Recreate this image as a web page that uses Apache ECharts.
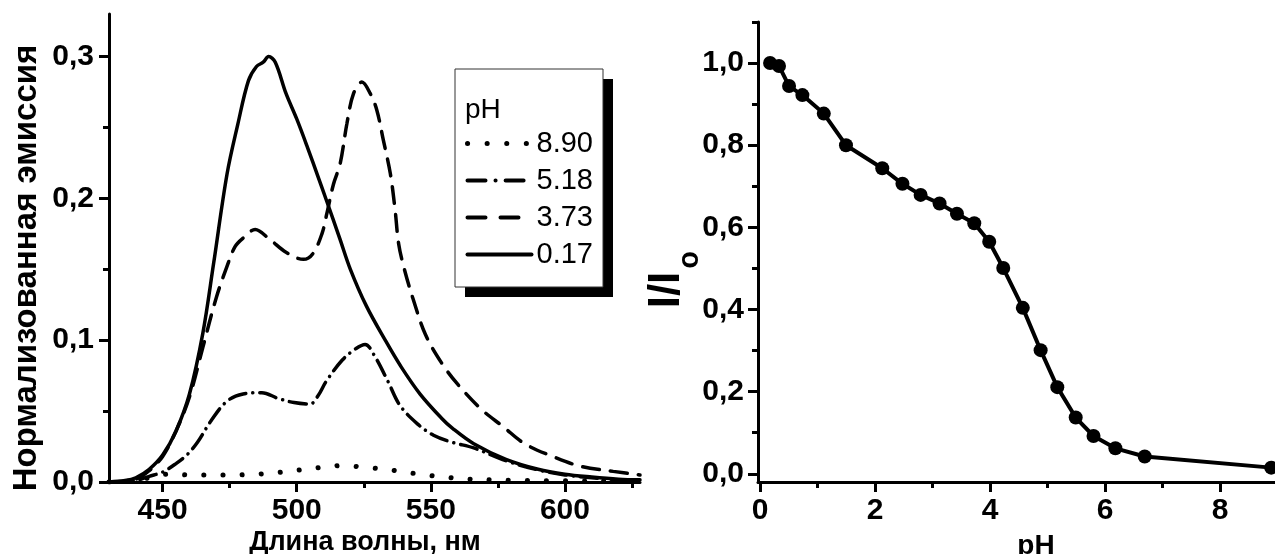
<!DOCTYPE html>
<html>
<head>
<meta charset="utf-8">
<script src="https://cdn.jsdelivr.net/npm/echarts@6/dist/echarts.min.js"></script>
<style>
html,body{margin:0;padding:0;background:#fff;}
#c{width:1275px;height:554px;}
</style>
</head>
<body>
<div id="c"></div>
<script>
// ---- Left panel: normalized emission spectra (wavelength, nm) ----
const wl_017 = [430, 436, 440, 445, 450, 455, 460, 465, 469, 474, 478, 482, 485, 487.5, 489.5, 492, 496, 500, 504, 508, 511, 516, 520, 526, 533, 539, 546, 554, 558, 566, 578, 590, 600, 610, 620, 628];
const em_017 = [0.000, 0.001, 0.003, 0.009, 0.019, 0.036, 0.062, 0.105, 0.154, 0.217, 0.252, 0.283, 0.293, 0.296, 0.300, 0.296, 0.274, 0.256, 0.236, 0.215, 0.199, 0.172, 0.150, 0.124, 0.100, 0.081, 0.062, 0.045, 0.038, 0.027, 0.016, 0.009, 0.0055, 0.0035, 0.002, 0.0015];

const wl_373 = [430, 440, 445, 450, 455, 460, 465, 470, 474, 477, 480, 484.5, 490, 496, 502.5, 506, 509.4, 511.2, 513.7, 516.2, 518.7, 521.2, 524.3, 527.4, 529.9, 532.3, 534.9, 536.7, 538, 540, 543.4, 548, 554, 560, 569, 577, 585, 596, 606, 618, 628];
const em_373 = [0.000, 0.002, 0.008, 0.018, 0.036, 0.060, 0.095, 0.130, 0.152, 0.166, 0.172, 0.178, 0.171, 0.162, 0.157, 0.161, 0.175, 0.189, 0.210, 0.2245, 0.2526, 0.274, 0.282, 0.274, 0.262, 0.241, 0.2175, 0.1915, 0.168, 0.151, 0.129, 0.104, 0.084, 0.069, 0.051, 0.039, 0.027, 0.0176, 0.011, 0.0075, 0.005];

const wl_518 = [430, 440, 445, 450, 455, 459, 463, 468, 474, 480, 487, 493, 499, 505, 508, 511, 517, 522, 525.5, 529, 534, 538.5, 545, 551, 558, 566, 578, 590, 600, 610, 620, 628];
const em_518 = [0.000, 0.001, 0.004, 0.007, 0.013, 0.019, 0.028, 0.043, 0.057, 0.062, 0.063, 0.059, 0.056, 0.055, 0.061, 0.071, 0.086, 0.094, 0.097, 0.089, 0.071, 0.054, 0.041, 0.033, 0.028, 0.024, 0.015, 0.0085, 0.005, 0.003, 0.0015, 0.001];

const wl_890 = [430, 440, 445, 452, 460, 470, 477, 485, 492, 500, 508, 516, 522, 528, 535, 540, 548, 556, 564, 572, 585, 600, 615, 628];
const em_890 = [0.000, 0.001, 0.003, 0.0055, 0.005, 0.005, 0.005, 0.0055, 0.0065, 0.0083, 0.010, 0.0115, 0.011, 0.010, 0.0085, 0.007, 0.005, 0.0033, 0.002, 0.0015, 0.001, 0.0008, 0.0005, 0.0005];

const legendNames = ['8.90', '5.18', '3.73', '0.17'];
const leftXTicks = [450, 500, 550, 600];
const leftXMinor = [475, 525, 575, 625];
const leftYTicks = [0, 0.1, 0.2, 0.3];
const leftYMinor = [0.05, 0.15, 0.25];

// ---- Right panel: I/Io versus pH ----
const phValues = [0.175, 0.33, 0.505, 0.737, 1.109, 1.495, 2.126, 2.477, 2.793, 3.123, 3.425, 3.726, 3.986, 4.23, 4.57, 4.88, 5.17, 5.49, 5.80, 6.18, 6.69, 8.89];
const ratioValues = [1.000, 0.993, 0.944, 0.922, 0.877, 0.800, 0.744, 0.706, 0.679, 0.658, 0.633, 0.610, 0.565, 0.501, 0.404, 0.301, 0.211, 0.137, 0.092, 0.062, 0.042, 0.015];
const rightXTicks = [0, 2, 4, 6, 8];
const rightXMinor = [1, 3, 5, 7];
const rightYTicks = [0, 0.2, 0.4, 0.6, 0.8, 1.0];
const rightYMinor = [0.1, 0.3, 0.5, 0.7, 0.9, 1.1];

const FONT = '"Liberation Sans", Arial, sans-serif';
const zip = (xs, ys) => xs.map((x, i) => [x, ys[i]]);
const comma = v => v.toFixed(1).replace('.', ',');

const dashes = { '8.90': [0.1, 19], '5.18': [17, 7, 0.1, 7], '3.73': [17, 11], '0.17': 'solid' };
const legendDashes = { '8.90': [0.1, 19.5], '5.18': [18, 10, 0.1, 10], '3.73': [18, 15], '0.17': 'solid' };
const widths = { '8.90': 5, '5.18': 3.5, '3.73': 3.5, '0.17': 3.5 };

function mainAxis(gridIndex, min, max, ticks, fmt, margin) {
  return {
    type: 'value', gridIndex, min, max,
    axisLine: { show: true, onZero: false, lineStyle: { color: '#000', width: 3 } },
    axisTick: { show: true, inside: false, length: 10, lineStyle: { color: '#000', width: 3 }, customValues: ticks },
    axisLabel: { show: true, customValues: ticks, formatter: fmt, margin, color: '#000', fontSize: 30, fontWeight: 'bold', fontFamily: FONT },
    splitLine: { show: false }
  };
}
function minorAxis(gridIndex, min, max, ticks) {
  return {
    type: 'value', gridIndex, min, max,
    axisLine: { show: false, onZero: false },
    axisTick: { show: true, inside: false, length: 6, lineStyle: { color: '#000', width: 3 }, customValues: ticks },
    axisLabel: { show: false },
    splitLine: { show: false }
  };
}

const lineBase = (name, xs, ys) => ({
  name, type: 'line', xAxisIndex: 0, yAxisIndex: 0,
  data: zip(xs, ys), smooth: 0.35, symbol: 'none', showSymbol: false,
  lineStyle: { color: '#000', width: widths[name], type: dashes[name], cap: 'round' },
  itemStyle: { color: '#000' }, z: 2
});

const chart = echarts.init(document.getElementById('c'), null, { renderer: 'canvas' });
chart.setOption({
  backgroundColor: '#fff',
  animation: false,
  grid: [
    { left: 109, top: 14, width: 531, height: 468 },
    { left: 758, top: 22, width: 517, height: 460 },
    { left: 109, top: 14, width: 531, height: 468 },
    { left: 758, top: 22, width: 517, height: 460 }
  ],
  xAxis: [
    mainAxis(0, 430, 628, leftXTicks, v => String(v), 14),
    mainAxis(1, -0.035, 8.956, rightXTicks, v => String(v), 14),
    minorAxis(2, 430, 628, leftXMinor),
    minorAxis(3, -0.035, 8.956, rightXMinor)
  ],
  yAxis: [
    mainAxis(0, 0, 0.33, leftYTicks, comma, 15),
    mainAxis(1, -0.02, 1.1, rightYTicks, comma, 14),
    minorAxis(2, 0, 0.33, leftYMinor),
    minorAxis(3, -0.02, 1.1, rightYMinor)
  ],
  legend: {
    data: legendNames.map(n => ({ name: n, lineStyle: { width: n === '8.90' ? 5 : 4, type: legendDashes[n], cap: 'round', color: '#000' } })),
    orient: 'vertical', left: 465, top: 129, padding: 0,
    itemWidth: 64, itemHeight: 3, itemGap: 8,
    itemStyle: { opacity: 0 },
    textStyle: { color: '#000', fontSize: 29, fontFamily: FONT, lineHeight: 28 },
    z: 6
  },
  graphic: [
    { type: 'rect', z: 3, shape: { x: 465, y: 79, width: 148, height: 218 }, style: { fill: '#000' } },
    { type: 'rect', z: 4, shape: { x: 455, y: 69, width: 148, height: 218 }, style: { fill: '#fff', stroke: '#333', lineWidth: 1 } },
    { type: 'text', z: 7, x: 465, y: 110, style: { text: 'pH', font: '28px ' + FONT, fill: '#000', verticalAlign: 'middle', align: 'left' } },
    { type: 'text', z: 7, x: 27, y: 268, rotation: Math.PI / 2, style: { text: 'Нормализованная эмиссия', font: 'bold 33px ' + FONT, fill: '#000', align: 'center', verticalAlign: 'middle' } },
    { type: 'text', z: 7, x: 365, y: 543, style: { text: 'Длина волны, нм', font: 'bold 27px ' + FONT, fill: '#000', align: 'center', verticalAlign: 'middle' } },
    { type: 'text', z: 7, x: 1036, y: 546, style: { text: 'pH', font: 'bold 28px ' + FONT, fill: '#000', align: 'center', verticalAlign: 'middle' } },
    { type: 'text', z: 7, x: 667, y: 290, rotation: Math.PI / 2, style: { text: 'I/I', font: 'bold 44px ' + FONT, fill: '#000', align: 'center', verticalAlign: 'middle' } },
    { type: 'text', z: 7, x: 690, y: 260, rotation: Math.PI / 2, style: { text: 'o', font: 'bold 29px ' + FONT, fill: '#000', align: 'center', verticalAlign: 'middle' } }
  ],
  series: [
    lineBase('8.90', wl_890, em_890),
    lineBase('5.18', wl_518, em_518),
    lineBase('3.73', wl_373, em_373),
    lineBase('0.17', wl_017, em_017),
    {
      name: 'I/Io', type: 'line', xAxisIndex: 1, yAxisIndex: 1,
      data: zip(phValues, ratioValues), smooth: false,
      symbol: 'circle', symbolSize: 14, showSymbol: true,
      lineStyle: { color: '#000', width: 4 }, itemStyle: { color: '#000' }, z: 2
    }
  ]
});
</script>
</body>
</html>
